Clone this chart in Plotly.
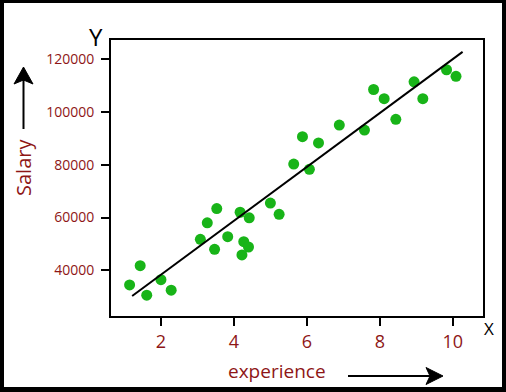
import plotly.graph_objects as go

# Data
experience = [1.14, 1.43, 1.61, 2.00, 2.28, 3.08, 3.27, 3.53, 3.47, 3.83,
              4.17, 4.42, 4.27, 4.40, 4.22, 5.00, 5.24, 5.64, 5.88, 6.07,
              6.32, 6.89, 7.58, 7.83, 8.12, 8.44, 8.94, 9.18, 9.83, 10.09]
salary = [34400, 41700, 30500, 36400, 32400, 51700, 58000, 63400, 47900, 52700,
          62000, 59900, 50800, 48800, 45800, 65500, 61200, 80300, 90700, 78300,
          88300, 95100, 93200, 108600, 105100, 97300, 111500, 105100, 116100, 113600]
fit_x = [1.21, 10.27]
fit_y = [30200, 122900]
x_ticks = [2, 4, 6, 8, 10]
y_ticks = [40000, 60000, 80000, 100000, 120000]

W, H = 506, 392
ML, MR, MT, MB = 111, 23, 40, 76
PW, PH = W - ML - MR, H - MT - MB

def px(x):
    return (x - ML) / PW

def py(y):
    return (H - MB - y) / PH

RED = "#8E1616"
FONT = "Open Sans"

fig = go.Figure()
fig.add_trace(go.Scatter(x=experience, y=salary, mode="markers",
                         marker=dict(color="#18B418", size=11, line=dict(width=0)),
                         showlegend=False, hoverinfo="skip"))
fig.add_trace(go.Scatter(x=fit_x, y=fit_y, mode="lines",
                         line=dict(color="black", width=2),
                         showlegend=False, hoverinfo="skip"))

axis_common = dict(showline=True, mirror=True, linecolor="black", linewidth=2,
                   showgrid=False, zeroline=False, ticks="outside", ticklen=8,
                   tickwidth=2, tickcolor="black")

fig.update_xaxes(range=[0.63, 10.83], tickvals=x_ticks,
                 tickfont=dict(family=FONT, size=18, color=RED), **axis_common)
fig.update_yaxes(range=[22600, 127400], tickvals=y_ticks, tickformat="d",
                 ticklabelstandoff=4,
                 tickfont=dict(family=FONT, size=14, color=RED), **axis_common)

shapes = []
# outer black frame
for (x0, y0, x1, y1) in [(0, 0, 4, H), (0, 0, W, 3), (502, 0, W, H), (0, 387, W, H)]:
    shapes.append(dict(type="rect", xref="paper", yref="paper",
                       x0=px(x0), x1=px(x1), y0=py(y1), y1=py(y0),
                       fillcolor="black", line=dict(width=0), layer="above"))
# vertical arrow (Salary)
shapes.append(dict(type="line", xref="paper", yref="paper",
                   x0=px(23.5), x1=px(23.5), y0=py(129), y1=py(80),
                   line=dict(color="black", width=2)))
shapes.append(dict(type="path", xref="paper", yref="paper",
                   path=f"M {px(23.5)} {py(67)} L {px(33)} {py(84)} L {px(23.5)} {py(80)} L {px(14)} {py(84)} Z",
                   fillcolor="black", line=dict(color="black", width=1)))
# horizontal arrow (experience)
shapes.append(dict(type="line", xref="paper", yref="paper",
                   x0=px(348), x1=px(431), y0=py(376), y1=py(376),
                   line=dict(color="black", width=2)))
shapes.append(dict(type="path", xref="paper", yref="paper",
                   path=f"M {px(443)} {py(376)} L {px(426)} {py(367.5)} L {px(430)} {py(376)} L {px(426)} {py(384.5)} Z",
                   fillcolor="black", line=dict(color="black", width=1)))

annotations = [
    dict(text="Y", x=px(95.5), y=py(36.5), font=dict(family=FONT, size=24, color="black")),
    dict(text="X", x=px(489), y=py(328), font=dict(family=FONT, size=17, color="black")),
    dict(text="Salary", x=px(23.5), y=py(167.5), textangle=-90,
         font=dict(family=FONT, size=20, color=RED)),
    dict(text="experience", x=px(277), y=py(371), font=dict(family=FONT, size=19, color=RED)),
]
for a in annotations:
    a.update(xref="paper", yref="paper", xanchor="center", yanchor="middle", showarrow=False)

fig.update_layout(width=W, height=H, margin=dict(l=ML, r=MR, t=MT, b=MB),
                  paper_bgcolor="white", plot_bgcolor="white",
                  shapes=shapes, annotations=annotations)

fig.write_html("out.html", config={"displayModeBar": False},
               post_script="document.body.style.margin='0';document.body.style.overflow='hidden';")
